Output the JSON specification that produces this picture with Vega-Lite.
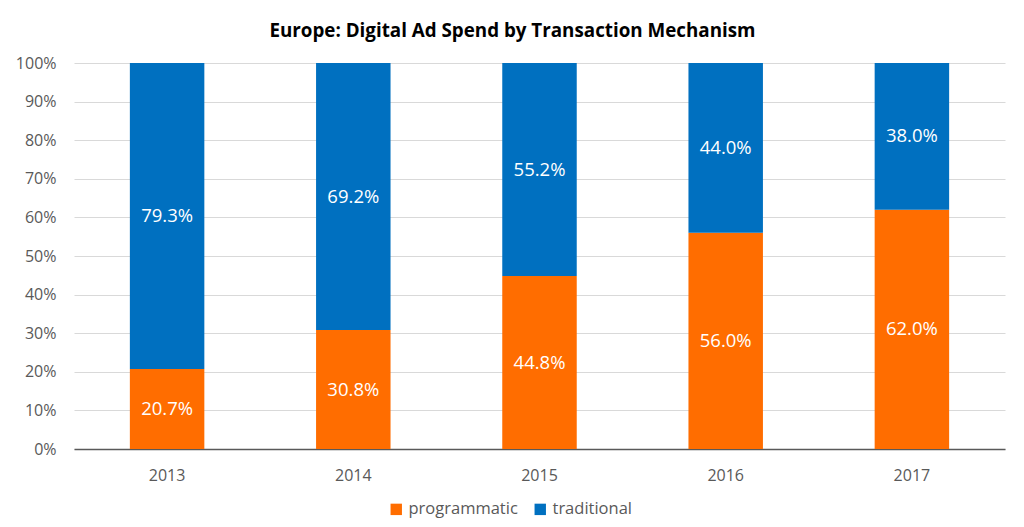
{
  "$schema": "https://vega.github.io/schema/vega-lite/v6.json",
  "autosize": {"type": "none"},
  "width": 931,
  "height": 386,
  "padding": {"left": 74, "top": 63, "right": 19, "bottom": 78},
  "background": "white",
  "config": {
    "font": "Open Sans",
    "view": {"stroke": null},
    "axisY": {
      "format": ".0%",
      "values": [0, 0.1, 0.2, 0.3, 0.4, 0.5, 0.6, 0.7, 0.8, 0.9, 1],
      "labelOverlap": false,
      "domain": false,
      "ticks": false,
      "grid": true,
      "gridColor": "#d9d9d9",
      "labelColor": "#595959",
      "labelFontSize": 16,
      "labelPadding": 18,
      "labelFont": "Open Sans",
      "title": null
    }
  },
  "title": {
    "text": "Europe: Digital Ad Spend by Transaction Mechanism",
    "fontSize": 18.8,
    "fontWeight": "bold",
    "color": "#000000",
    "anchor": "middle",
    "frame": "group",
    "dx": -27,
    "offset": 14,
    "font": "Open Sans"
  },
  "data": {
    "values": [
      {"year": "2013", "type": "programmatic", "share": 0.207},
      {"year": "2013", "type": "traditional", "share": 0.793},
      {"year": "2014", "type": "programmatic", "share": 0.308},
      {"year": "2014", "type": "traditional", "share": 0.692},
      {"year": "2015", "type": "programmatic", "share": 0.448},
      {"year": "2015", "type": "traditional", "share": 0.552},
      {"year": "2016", "type": "programmatic", "share": 0.56},
      {"year": "2016", "type": "traditional", "share": 0.44},
      {"year": "2017", "type": "programmatic", "share": 0.62},
      {"year": "2017", "type": "traditional", "share": 0.38}
    ]
  },
  "transform": [
    {"stack": "share", "groupby": ["year"], "sort": [{"field": "type", "order": "ascending"}], "as": ["y0", "y1"]},
    {"calculate": "(datum.y0 + datum.y1) / 2", "as": "ymid"}
  ],
  "encoding": {
    "x": {
      "field": "year",
      "type": "ordinal",
      "title": null,
      "scale": {"paddingInner": 0.6, "paddingOuter": 0.3},
      "axis": {
        "labelAngle": 0,
        "ticks": false,
        "domain": true,
        "domainColor": "#595959",
        "domainWidth": 1.5,
        "labelColor": "#595959",
        "labelFontSize": 16,
        "labelPadding": 18,
        "labelFont": "Open Sans"
      }
    }
  },
  "layer": [
    {
      "mark": {"type": "bar"},
      "encoding": {
        "y": {
          "field": "y0",
          "type": "quantitative",
          "title": null,
          "scale": {"domain": [0, 1]},
          "axis": {"values": [0, 0.1, 0.2, 0.3, 0.4, 0.5, 0.6, 0.7, 0.8, 0.9, 1], "format": ".0%", "labelOverlap": false}
        },
        "y2": {"field": "y1"},
        "color": {
          "field": "type",
          "type": "nominal",
          "scale": {"domain": ["programmatic", "traditional"], "range": ["#FF6D00", "#0070C0"]},
          "legend": {
            "title": null,
            "orient": "none",
            "direction": "horizontal",
            "legendX": 314,
            "legendY": 438,
            "symbolType": "square",
            "symbolSize": 130,
            "symbolStrokeWidth": 0,
            "labelFontSize": 16.5,
            "labelColor": "#595959",
            "labelFont": "Open Sans",
            "columnPadding": 14,
            "labelOffset": 4
          }
        }
      }
    },
    {
      "mark": {"type": "text", "color": "white", "fontSize": 18.5, "baseline": "middle", "align": "center", "font": "Open Sans"},
      "encoding": {
        "y": {
          "field": "ymid",
          "type": "quantitative",
          "title": null,
          "axis": {"values": [0, 0.1, 0.2, 0.3, 0.4, 0.5, 0.6, 0.7, 0.8, 0.9, 1], "format": ".0%", "labelOverlap": false}
        },
        "text": {"field": "share", "type": "quantitative", "format": ".1%"}
      }
    }
  ]
}
